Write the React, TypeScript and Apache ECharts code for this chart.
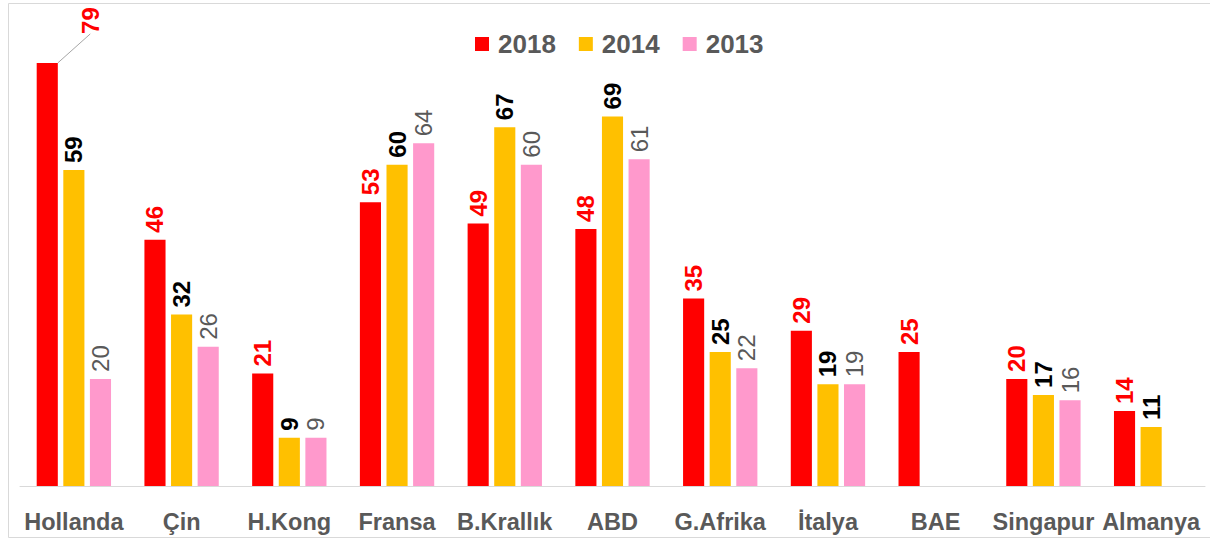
import React, { useEffect, useRef } from "react";
import * as echarts from "echarts";

const categories = ["Hollanda", "Çin", "H.Kong", "Fransa", "B.Krallık", "ABD", "G.Afrika", "İtalya", "BAE", "Singapur", "Almanya"];
const seriesNames = ["2018", "2014", "2013"];
const values2018 = [79, 46, 21, 53, 49, 48, 35, 29, 25, 20, 14];
const values2014: (number | null)[] = [59, 32, 9, 60, 67, 69, 25, 19, null, 17, 11];
const values2013: (number | null)[] = [20, 26, 9, 64, 60, 61, 22, 19, null, 16, null];
const colors = ["#FF0000", "#FFC000", "#FF99CC"];
const labelColors = ["#FF0000", "#000000", "#595959"];

const FONT = "'Liberation Sans', Arial, sans-serif";

export default function App() {
  const ref = useRef<HTMLDivElement>(null);
  useEffect(() => {
    if (!ref.current) return;
    const chart = echarts.init(ref.current, undefined, { renderer: "svg" });
    const datas: any[] = [
      values2018.map((v, k) => (k === 0 ? { value: v, labelLine: { show: true } } : v)),
      values2014,
      values2013,
    ];
    chart.setOption({
      animation: false,
      backgroundColor: "#ffffff",
      graphic: [
        {
          type: "rect",
          shape: { x: 8.5, y: 3.5, width: 1210, height: 534 },
          style: { fill: "none", stroke: "#d9d9d9", lineWidth: 1 },
          silent: true,
          z: -1,
        },
      ],
      legend: {
        top: 26,
        left: 470,
        itemWidth: 14,
        itemHeight: 14,
        itemGap: 23,
        icon: "rect",
        textStyle: { fontFamily: FONT, fontSize: 26, fontWeight: "bold", color: "#595959", padding: [0, 0, 0, 4] },
        data: seriesNames,
      },
      grid: { left: 20, right: 5, top: 4, bottom: 54, containLabel: false },
      xAxis: {
        type: "category",
        data: categories,
        axisLine: { lineStyle: { color: "#d9d9d9", width: 1 } },
        axisTick: { show: false },
        axisLabel: { fontFamily: FONT, fontSize: 23.5, fontWeight: "bold", color: "#595959", margin: 24, interval: 0 },
      },
      yAxis: {
        type: "value",
        min: 0,
        max: 90,
        show: false,
        splitLine: { show: false },
      },
      series: datas.map((d, i) => ({
        name: seriesNames[i],
        type: "bar",
        data: d,
        barGap: "26%",
        barCategoryGap: "31%",
        itemStyle: { color: colors[i] },
        label: {
          show: true,
          position: "top",
          rotate: 90,
          align: "left",
          verticalAlign: "middle",
          distance: 7,
          fontFamily: FONT,
          fontSize: 24,
          fontWeight: i === 2 ? "normal" : "bold",
          color: labelColors[i],
        },
        labelLine: { show: false, lineStyle: { color: "#a6a6a6", width: 1 } },
        labelLayout: i === 0 ? (p: any) => (p.dataIndex === 0 ? { dx: 22, dy: 43 } : {}) : undefined,
      })),
    });
    return () => chart.dispose();
  }, []);
  return <div ref={ref} style={{ position: "fixed", left: 0, top: 0, width: 1210, height: 540 }} />;
}
